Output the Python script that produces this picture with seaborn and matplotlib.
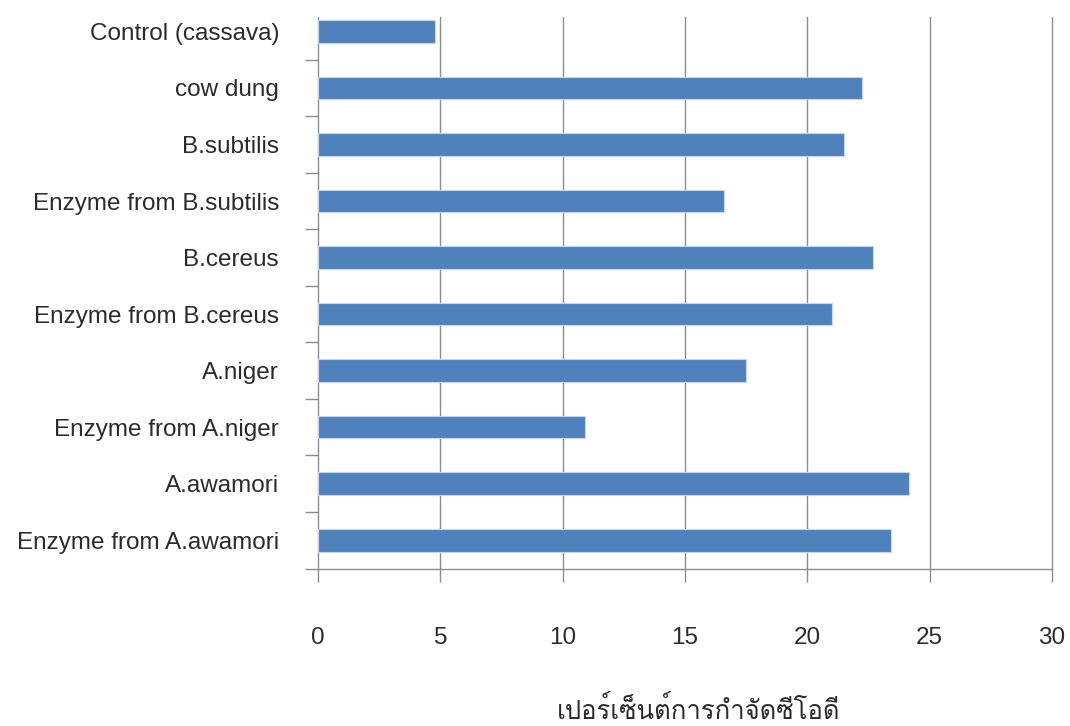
import matplotlib
matplotlib.use("Agg")
import matplotlib.pyplot as plt
from matplotlib import font_manager
from matplotlib.ft2font import FT2Font
import seaborn as sns
import pandas as pd
import numpy as np

# COD removal (%) for each treatment
treatments = [
    "Control (cassava)",
    "cow dung",
    "B.subtilis",
    "Enzyme from B.subtilis",
    "B.cereus",
    "Enzyme from B.cereus",
    "A.niger",
    "Enzyme from A.niger",
    "A.awamori",
    "Enzyme from A.awamori",
]
removal = [4.77, 22.24, 21.51, 16.60, 22.67, 20.99, 17.49, 10.92, 24.15, 23.42]
x_ticks = [0, 5, 10, 15, 20, 25, 30]
x_label = "เปอร์เซ็นต์การกำจัดซีโอดี"


def find_thai_family():
    """Return the name of an installed font family that has Thai glyphs."""
    for entry in font_manager.fontManager.ttflist:
        try:
            cmap = FT2Font(entry.fname).get_charmap()
        except Exception:
            continue
        if 0x0E01 in cmap and 0x0E35 in cmap and 0x0E4C in cmap:
            return entry.name
    return None


thai_family = find_thai_family()

df = pd.DataFrame({"treatment": treatments, "removal": removal})

sns.set_theme(style="white")
plt.rcParams["font.family"] = ["Liberation Sans", "DejaVu Sans", "Noto Sans"]

fig = plt.figure(figsize=(10.70, 7.26), dpi=100)
ax = fig.add_axes([318 / 1070, 1 - 568.5 / 726, 734 / 1070, 565.3 / 726])

sns.barplot(data=df, x="removal", y="treatment", orient="h", color="#4F81BD",
            saturation=1, width=0.4, edgecolor="#c9d6ea", linewidth=0.8, ax=ax)

ax.set_xlim(0, 30)
ax.set_ylim(len(treatments) - 0.5, -0.5)
ax.set_xticks(x_ticks)

# vertical gridlines
for t in x_ticks:
    ax.axvline(t, ymin=0, ymax=0.975, color="#8c8c8c", lw=1.0, zorder=0,
               clip_on=False)

for s in ["top", "right", "left"]:
    ax.spines[s].set_visible(False)
ax.spines["bottom"].set_color("#8c8c8c")
ax.spines["bottom"].set_linewidth(1.0)

text_color = "#2b2b2b"
ax.tick_params(axis="x", direction="out", length=9.4, width=1.0, color="#8c8c8c",
               pad=33, labelsize=17.5, labelcolor=text_color, bottom=True)
ax.tick_params(axis="y", which="major", length=0, pad=28, labelsize=17.5,
               labelcolor=text_color, left=True)
ax.set_yticks(np.arange(0.5, len(treatments) - 0.5 + 0.01, 1.0), minor=True)
ax.tick_params(axis="y", which="minor", direction="out", length=9.4, width=1.0,
               color="#8c8c8c", left=True)

label_families = ([thai_family] if thai_family else []) + ["Liberation Sans", "DejaVu Sans"]
ax.set_ylabel("")
ax.set_xlabel(x_label, fontsize=18.5, color=text_color, family=label_families)
ax.xaxis.set_label_coords(0.518, -0.226)
ax.xaxis.label.set_va("top")

fig.savefig("out.png", dpi=100)
